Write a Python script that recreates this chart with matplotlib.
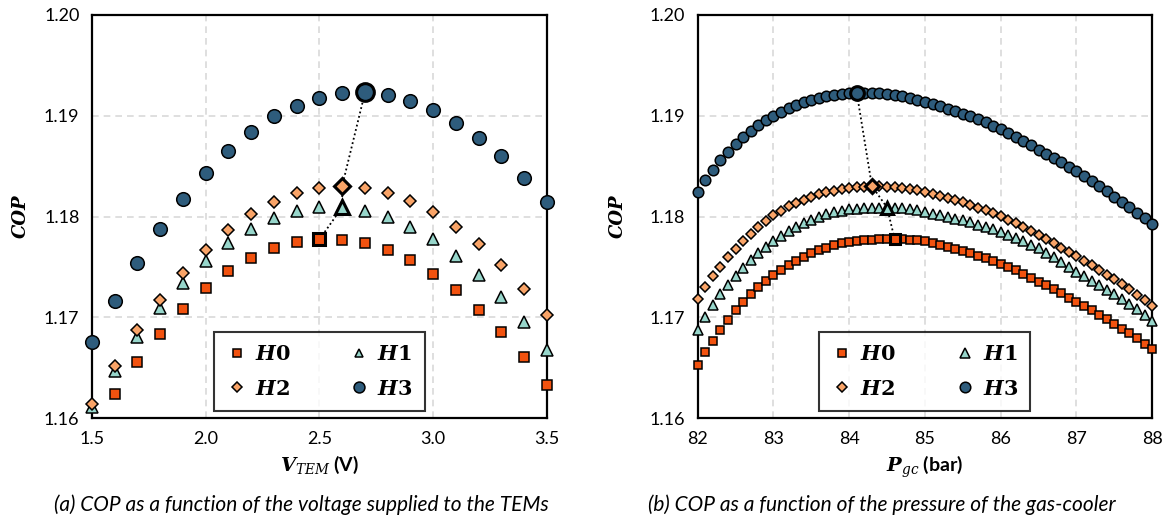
import numpy as np
import matplotlib
matplotlib.use("Agg")
import matplotlib.pyplot as plt

# ==== FONTS ====
plt.rcParams["font.family"] = ["Lato", "DejaVu Sans"]
plt.rcParams["mathtext.fontset"] = "custom"
plt.rcParams["mathtext.rm"] = "DejaVu Serif"
plt.rcParams["mathtext.it"] = "DejaVu Serif:italic"
plt.rcParams["mathtext.bf"] = "DejaVu Serif:bold"
plt.rcParams["mathtext.bfit"] = "DejaVu Serif:bold:italic"

# ==== DATA (a) COP vs TEM voltage ====
v_tem = [1.5, 1.6, 1.7, 1.8, 1.9, 2.0, 2.1, 2.2, 2.3, 2.4, 2.5,
         2.6, 2.7, 2.8, 2.9, 3.0, 3.1, 3.2, 3.3, 3.4, 3.5]
cop_v_h0 = [np.nan, 1.16241, 1.16556, 1.16836, 1.17078, 1.17287, 1.17455, 1.17587, 1.17683, 1.17749, 1.17773,
            1.17770, 1.17736, 1.17667, 1.17564, 1.17432, 1.17270, 1.17074, 1.16853, 1.16605, 1.16327]
cop_v_h1 = [1.16106, 1.16469, 1.16807, 1.17091, 1.17342, 1.17558, 1.17733, 1.17875, 1.17981, 1.18054, 1.18090,
            1.18092, 1.18054, 1.17991, 1.17898, 1.17773, 1.17607, 1.17416, 1.17203, 1.16952, 1.16675]
cop_v_h2 = [1.16139, 1.16519, 1.16873, 1.17171, 1.17438, 1.17670, 1.17865, 1.18024, 1.18143, 1.18232, 1.18282,
            1.18305, 1.18285, 1.18235, 1.18153, 1.18041, 1.17898, 1.17723, 1.17518, 1.17283, 1.17019]
cop_v_h3 = [1.16750, 1.17164, 1.17535, 1.17872, 1.18170, 1.18431, 1.18652, 1.18841, 1.18993, 1.19098, 1.19181,
            1.19221, 1.19231, 1.19204, 1.19148, 1.19056, 1.18933, 1.18781, 1.18599, 1.18381, 1.18140]

# ==== DATA (b) COP vs gas-cooler pressure ====
p_gc = [82.0, 82.1, 82.2, 82.3, 82.4, 82.5, 82.6, 82.7, 82.8, 82.9,
        83.0, 83.1, 83.2, 83.3, 83.4, 83.5, 83.6, 83.7, 83.8, 83.9,
        84.0, 84.1, 84.2, 84.3, 84.4, 84.5, 84.6, 84.7, 84.8, 84.9,
        85.0, 85.1, 85.2, 85.3, 85.4, 85.5, 85.6, 85.7, 85.8, 85.9,
        86.0, 86.1, 86.2, 86.3, 86.4, 86.5, 86.6, 86.7, 86.8, 86.9,
        87.0, 87.1, 87.2, 87.3, 87.4, 87.5, 87.6, 87.7, 87.8, 87.9,
        88.0]
cop_p_h0 = [1.16526, 1.16651, 1.16767, 1.16873, 1.16972, 1.17068, 1.17151, 1.17230, 1.17296, 1.17359,
            1.17415, 1.17472, 1.17521, 1.17561, 1.17600, 1.17637, 1.17667, 1.17690, 1.17713, 1.17733,
            1.17749, 1.17758, 1.17765, 1.17770, 1.17773, 1.17775, 1.17776, 1.17774, 1.17770, 1.17764,
            1.17754, 1.17740, 1.17722, 1.17702, 1.17680, 1.17657, 1.17634, 1.17610, 1.17584, 1.17558,
            1.17531, 1.17500, 1.17466, 1.17430, 1.17392, 1.17354, 1.17317, 1.17278, 1.17237, 1.17195,
            1.17154, 1.17111, 1.17069, 1.17024, 1.16979, 1.16933, 1.16888, 1.16840, 1.16790, 1.16738,
            1.16685]
cop_p_h1 = [1.16873, 1.17005, 1.17121, 1.17227, 1.17323, 1.17409, 1.17491, 1.17567, 1.17634, 1.17700,
            1.17759, 1.17809, 1.17855, 1.17898, 1.17935, 1.17968, 1.17997, 1.18021, 1.18040, 1.18057,
            1.18070, 1.18078, 1.18084, 1.18087, 1.18088, 1.18089, 1.18086, 1.18080, 1.18072, 1.18061,
            1.18045, 1.18028, 1.18012, 1.17996, 1.17979, 1.17961, 1.17941, 1.17920, 1.17898, 1.17874,
            1.17848, 1.17818, 1.17788, 1.17756, 1.17721, 1.17684, 1.17640, 1.17596, 1.17550, 1.17502,
            1.17454, 1.17406, 1.17360, 1.17317, 1.17274, 1.17232, 1.17182, 1.17131, 1.17079, 1.17024,
            1.16965]
cop_p_h2 = [1.17181, 1.17300, 1.17405, 1.17501, 1.17594, 1.17673, 1.17756, 1.17829, 1.17895, 1.17958,
            1.18014, 1.18058, 1.18100, 1.18136, 1.18168, 1.18196, 1.18220, 1.18240, 1.18256, 1.18269,
            1.18280, 1.18289, 1.18296, 1.18302, 1.18300, 1.18297, 1.18293, 1.18286, 1.18276, 1.18262,
            1.18244, 1.18222, 1.18202, 1.18183, 1.18163, 1.18140, 1.18113, 1.18087, 1.18060, 1.18030,
            1.18005, 1.17970, 1.17935, 1.17897, 1.17857, 1.17816, 1.17775, 1.17734, 1.17692, 1.17650,
            1.17607, 1.17562, 1.17516, 1.17473, 1.17424, 1.17376, 1.17326, 1.17277, 1.17221, 1.17169,
            1.17114]
cop_p_h3 = [1.18245, 1.18361, 1.18460, 1.18556, 1.18639, 1.18715, 1.18785, 1.18847, 1.18904, 1.18953,
            1.18999, 1.19039, 1.19075, 1.19108, 1.19135, 1.19158, 1.19178, 1.19194, 1.19208, 1.19217,
            1.19224, 1.19228, 1.19227, 1.19226, 1.19222, 1.19214, 1.19205, 1.19194, 1.19178, 1.19159,
            1.19138, 1.19115, 1.19093, 1.19069, 1.19046, 1.19021, 1.18994, 1.18966, 1.18934, 1.18900,
            1.18864, 1.18825, 1.18786, 1.18747, 1.18706, 1.18665, 1.18624, 1.18580, 1.18537, 1.18494,
            1.18450, 1.18403, 1.18355, 1.18304, 1.18252, 1.18198, 1.18144, 1.18090, 1.18037, 1.17983,
            1.17927]

labels = [r"$\mathbfit{H}\mathbf{0}$", r"$\mathbfit{H}\mathbf{1}$",
          r"$\mathbfit{H}\mathbf{2}$", r"$\mathbfit{H}\mathbf{3}$"]
captions = ["(a) COP as a function of the voltage supplied to the TEMs",
            "(b) COP as a function of the pressure of the gas-cooler"]

# ==== STYLE ====
markers = ["s", "^", "D", "o"]
colors = ["#F2520F", "#97D6CB", "#F9A468", "#2E5C7C"]
sizes_a = [7.0, 8.0, 6.3, 9.8]
sizes_b = [5.6, 6.8, 5.4, 7.6]


def draw_panel(ax, x, series, sizes, legend_scale, ylab_x):
    peaks = []
    handles = []
    for y, m, c, s, lab in zip(series, markers, colors, sizes, labels):
        h, = ax.plot(x, y, linestyle="none", marker=m, markersize=s, markerfacecolor=c,
                     markeredgecolor="black", markeredgewidth=1.1, label=lab, zorder=3, clip_on=False)
        handles.append(h)
        i = int(np.nanargmax(y))
        peaks.append((x[i], y[i]))
        ax.plot(x[i], y[i], linestyle="none", marker=m, markersize=s * 1.3, markerfacecolor=c,
                markeredgecolor="black", markeredgewidth=2.2, zorder=4, clip_on=False)
    px = [p[0] for p in peaks]
    py = [p[1] for p in peaks]
    ax.plot(px, py, linestyle=(0, (1, 1.5)), color="black", linewidth=1.3, zorder=3.5)

    ax.set_ylim(1.16, 1.20)
    ax.set_yticks([1.16, 1.17, 1.18, 1.19, 1.20])
    ax.set_yticklabels(["1.16", "1.17", "1.18", "1.19", "1.20"])
    ax.grid(True, linestyle=(0, (4, 3)), color="#D9D9D9", linewidth=1.2)
    ax.set_axisbelow(True)
    for sp in ax.spines.values():
        sp.set_linewidth(1.6)
        sp.set_color("black")
    ax.tick_params(length=0, labelsize=13, pad=9)
    ax.set_ylabel("COP", family="DejaVu Serif", fontweight="bold", style="italic", fontsize=13)
    ax.yaxis.set_label_coords(ylab_x, 0.5)
    # row order: H0 H1 / H2 H3
    order = [0, 2, 1, 3]
    leg = ax.legend([handles[k] for k in order], [labels[k] for k in order],
                    loc="lower left", bbox_to_anchor=(0.268, 0.017, 0.464, 0.212), mode="expand",
                    ncol=2, fancybox=False, edgecolor="black", fontsize=15, handletextpad=0.35,
                    borderaxespad=0, columnspacing=1.0, borderpad=0.6, labelspacing=0.7,
                    handlelength=1.0, markerscale=legend_scale)
    leg.get_frame().set_linewidth(1.5)


fig = plt.figure(figsize=(11.7, 5.19), dpi=100)

ax1 = fig.add_axes([0.0786, 0.1946, 0.3889, 0.7765])
draw_panel(ax1, v_tem, [cop_v_h0, cop_v_h1, cop_v_h2, cop_v_h3], sizes_a, 0.8, -0.136)
ax1.set_xlim(1.5, 3.5)
ax1.set_xticks([1.5, 2.0, 2.5, 3.0, 3.5])
ax1.set_xticklabels(["1.5", "2.0", "2.5", "3.0", "3.5"])
ax1.set_xlabel(r"$\mathbfit{V}_{\mathit{TEM}}$ (V)", fontsize=14, fontweight="bold", labelpad=5)

ax2 = fig.add_axes([0.5963, 0.1946, 0.3885, 0.7765])
draw_panel(ax2, p_gc, [cop_p_h0, cop_p_h1, cop_p_h2, cop_p_h3], sizes_b, 1.0, -0.155)
ax2.set_xlim(82, 88)
ax2.set_xticks([82, 83, 84, 85, 86, 87, 88])
ax2.set_xticklabels(["82", "83", "84", "85", "86", "87", "88"])
ax2.set_xlabel(r"$\mathbfit{P}_{\mathit{gc}}$ (bar)", fontsize=14, fontweight="bold", labelpad=5)

# captions are not centred on the axes in the original
for cx, cap in zip([0.258, 0.754], captions):
    fig.text(cx, 0.027, cap, ha="center", va="center", style="italic", fontsize=15)

fig.savefig("out.png", dpi=100)
